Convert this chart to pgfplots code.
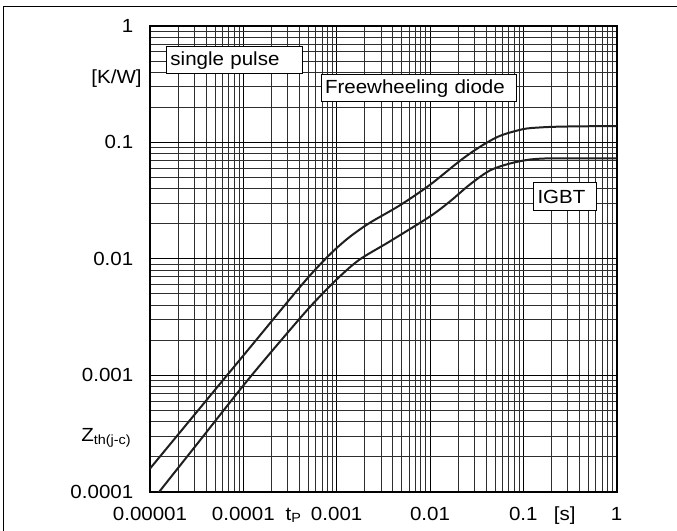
\documentclass[border=0pt]{standalone}
\usepackage{fontspec}
\setmainfont{Liberation Sans}[FakeStretch=1.08]
\usepackage{pgfplots}
\pgfplotsset{compat=1.18}
\begin{document}
\fontsize{9.5}{11.4}\selectfont
\begin{tikzpicture}
\path[use as bounding box] (0,0) rectangle (338.5pt,265.5pt);
\draw[line width=0.5pt] (2pt,-2pt) -- (2pt,262pt) -- (341pt,262pt);
\begin{axis}[
  at={(75pt,19.65pt)}, anchor=south west,
  scale only axis, width=233.35pt, height=232.85pt,
  xmode=log, ymode=log,
  xmin=1e-5, xmax=1, ymin=1e-4, ymax=1,
  xtick={1e-5,1e-4,1e-3,1e-2,1e-1,1},
  xticklabels={0.00001,0.0001,0.001,0.01,0.1,1},
  minor xtick={2e-5,3e-5,4e-5,5e-5,6e-5,7e-5,8e-5,9e-5,
               2e-4,3e-4,4e-4,5e-4,6e-4,7e-4,8e-4,9e-4,
               2e-3,3e-3,4e-3,5e-3,6e-3,7e-3,8e-3,9e-3,
               2e-2,3e-2,4e-2,5e-2,6e-2,7e-2,8e-2,9e-2,
               2e-1,3e-1,4e-1,5e-1,6e-1,7e-1,8e-1,9e-1},
  ytick={1e-4,1e-3,1e-2,1e-1,1},
  yticklabels={0.0001,0.001,0.01,0.1,1},
  minor ytick={2e-4,3e-4,4e-4,5e-4,6e-4,7e-4,8e-4,9e-4,
               2e-3,3e-3,4e-3,5e-3,6e-3,7e-3,8e-3,9e-3,
               2e-2,3e-2,4e-2,5e-2,6e-2,7e-2,8e-2,9e-2,
               2e-1,3e-1,4e-1,5e-1,6e-1,7e-1,8e-1,9e-1},
  grid=both,
  major grid style={black, line width=0.5pt},
  minor grid style={black!82, line width=0.5pt},
  major tick length=0pt, minor tick length=0pt,
  axis line style={line width=1pt},
  /pgf/number format/assume math mode=true,
  xticklabel style={anchor=base, yshift=-14.15pt},
  yticklabel style={xshift=-5pt},
  extra x ticks={3.48e-4,0.2776},
  extra x tick labels={t\textsubscript{P},[s]},
  extra x tick style={grid=none},
  clip mode=individual,
  axis on top=false,
]
% Freewheeling diode (upper)
\addplot[line width=1pt, black!88, smooth, tension=0.5] coordinates {
(1e-5,1.579e-4) (3.43e-5,5.226e-4) (1.177e-4,1.730e-3) (4.036e-4,5.723e-3)
(6.607e-4,8.917e-3) (9.565e-4,0.01199) (1.385e-3,0.01548) (2.267e-3,0.02042)
(4.75e-3,0.02882) (9.952e-3,0.04314) (0.02085,0.06936) (0.03413,0.09149)
(0.05588,0.1137) (0.09927,0.1301) (0.1498,0.1345) (0.2453,0.1367)
(0.514,0.1378) (1,0.1383)
};
% IGBT (lower)
\addplot[line width=1pt, black!88, smooth, tension=0.5] coordinates {
(1e-5,7.93e-5) (3.43e-5,2.759e-4) (1.177e-4,9.594e-4) (4.036e-4,3.083e-3)
(6.607e-4,4.762e-3) (1.082e-3,7.073e-3) (1.772e-3,9.901e-3) (3.712e-3,0.01413)
(9.952e-3,0.02309) (0.01629,0.03106) (0.02667,0.04347) (0.04368,0.05735)
(0.07151,0.06588) (0.1171,0.0713) (0.1918,0.07302) (0.4017,0.07302) (1,0.07302)
};
\tikzset{lbox/.style={draw=black, line width=0.5pt, fill=white, anchor=west,
  inner xsep=2pt, inner ysep=0pt, minimum height=13.5pt, align=left}}
\node[lbox, text width=63.85pt] at (axis cs:1.483e-5,0.507) {single pulse};
\node[lbox, text width=93.65pt] at (axis cs:6.72e-4,0.2912) {Freewheeling diode};
\node[lbox, text width=27.7pt, minimum height=14pt] at (axis cs:0.127,0.03416) {IGBT};
\node[anchor=east, inner sep=0pt] at ([xshift=-4pt]axis cs:1e-5,0.3554) {[K/W]};
\node[anchor=east, inner sep=0pt] at ([xshift=-9pt]axis cs:1e-5,2.916e-4) {Z\textsubscript{th(j-c)}};
\end{axis}
\end{tikzpicture}
\end{document}
